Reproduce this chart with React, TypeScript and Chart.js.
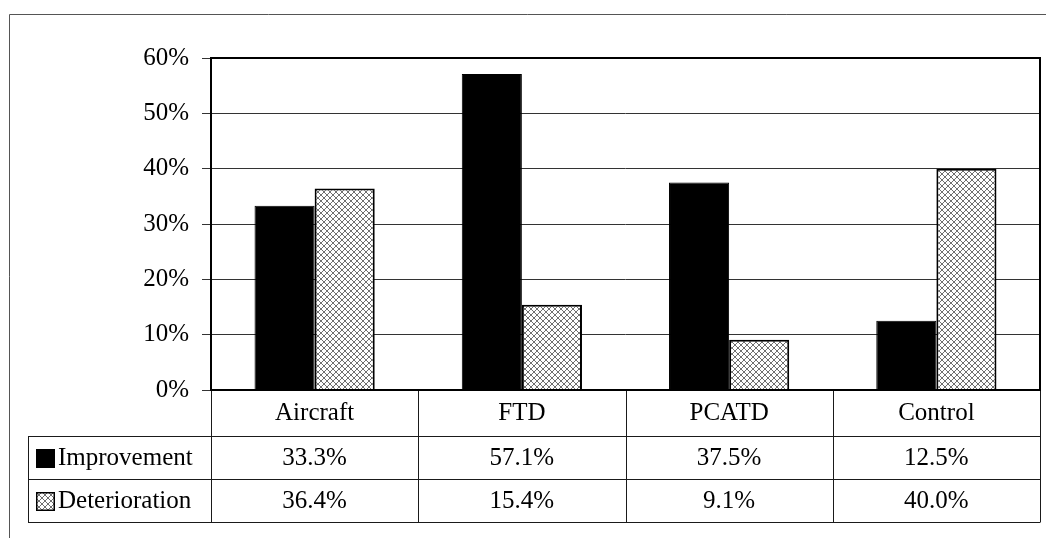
import React, { useEffect, useRef } from "react";
import { Chart, registerables } from "chart.js";

Chart.register(...registerables);

const categories = ["Aircraft", "FTD", "PCATD", "Control"];
const improvement = [33.3, 57.1, 37.5, 12.5];
const deterioration = [36.4, 15.4, 9.1, 40.0];
const seriesNames = ["Improvement", "Deterioration"];
const yMin = 0;
const yMax = 60;
const yStep = 10;

const FONT_FAMILY = "'Liberation Serif', 'Times New Roman', serif";
const FONT_SIZE = 25;

function makeHatch(): CanvasPattern | string {
  const c = document.createElement("canvas");
  c.width = 6;
  c.height = 6;
  const g = c.getContext("2d");
  if (!g) return "#bbb";
  g.fillStyle = "#fff";
  g.fillRect(0, 0, 6, 6);
  g.fillStyle = "#707070";
  for (let i = 0; i < 6; i++) {
    g.fillRect(i, i, 1, 1);
    g.fillRect(i, 5 - i, 1, 1);
  }
  const p = g.createPattern(c, "repeat");
  return p || "#bbb";
}

export default function App() {
  const ref = useRef<HTMLCanvasElement>(null);

  useEffect(() => {
    document.body.style.margin = "0";
    const canvas = ref.current;
    if (!canvas) return;
    const hatch = makeHatch();
    const fills = ["#000000", hatch];
    const seriesData = [improvement, deterioration];

    const tablePlugin = {
      id: "dataTable",
      afterDraw(chart: any) {
        const { ctx, chartArea: ca } = chart;
        const xs = chart.scales.x;
        const n = categories.length;
        const colW = (xs.right - xs.left) / n;
        const r0 = ca.bottom;
        const r1 = r0 + 46;
        const r2 = r1 + 43;
        const r3 = r2 + 43;
        const rows = [r1, r2, r3];
        const legendLeft = 28;
        const al = (v: number) => Math.round(v) + 0.5;

        ctx.save();
        // outer frame
        ctx.strokeStyle = "#555";
        ctx.lineWidth = 1;
        ctx.beginPath();
        ctx.moveTo(al(9), chart.height);
        ctx.lineTo(al(9), al(14));
        ctx.lineTo(chart.width, al(14));
        ctx.stroke();

        // table lines
        ctx.strokeStyle = "#1a1a1a";
        ctx.beginPath();
        for (const y of rows) {
          ctx.moveTo(legendLeft, al(y));
          ctx.lineTo(ca.right, al(y));
        }
        ctx.moveTo(al(legendLeft), r1);
        ctx.lineTo(al(legendLeft), r3);
        for (let i = 0; i <= n; i++) {
          const x = al(ca.left + i * colW);
          ctx.moveTo(x, r0);
          ctx.lineTo(x, r3 + 0.5);
        }
        ctx.stroke();

        // values & legend
        ctx.font = `${FONT_SIZE}px ${FONT_FAMILY}`;
        ctx.fillStyle = "#000";
        ctx.textBaseline = "middle";
        for (let s = 0; s < seriesData.length; s++) {
          const top = rows[s];
          const bottom = rows[s + 1];
          const cy = (top + bottom) / 2 + 1;
          ctx.textAlign = "center";
          for (let i = 0; i < n; i++) {
            const cx = xs.getPixelForValue(i);
            ctx.fillText(seriesData[s][i].toFixed(1) + "%", cx, cy);
          }
          // legend key
          const ks = 19;
          const kx = 36;
          const ky = Math.round(cy - ks / 2);
          ctx.fillStyle = fills[s] as any;
          ctx.fillRect(kx, ky, ks, ks);
          ctx.strokeStyle = "#000";
          ctx.lineWidth = 1.5;
          ctx.strokeRect(kx + 0.75, ky + 0.75, ks - 1.5, ks - 1.5);
          ctx.fillStyle = "#000";
          ctx.textAlign = "left";
          ctx.fillText(seriesNames[s], 58, cy);
        }

        // plot border
        ctx.strokeStyle = "#000";
        ctx.lineWidth = 2;
        ctx.strokeRect(ca.left, ca.top, ca.right - ca.left, ca.bottom - ca.top);
        ctx.restore();
      },
    };

    const font = { family: FONT_FAMILY, size: FONT_SIZE };

    const chart = new Chart(canvas, {
      type: "bar",
      data: {
        labels: categories,
        datasets: [
          {
            label: seriesNames[0],
            data: improvement,
            backgroundColor: "#000000",
            borderColor: "#000000",
            borderWidth: 1,
          },
          {
            label: seriesNames[1],
            data: deterioration,
            backgroundColor: hatch as any,
            borderColor: "#000000",
            borderWidth: 2,
          },
        ],
      },
      options: {
        animation: false,
        responsive: false,
        devicePixelRatio: 1,
        layout: { padding: { left: 0, right: 6, top: 58, bottom: 0 } },
        datasets: { bar: { categoryPercentage: 0.58, barPercentage: 1 } },
        plugins: {
          legend: { display: false },
          tooltip: { enabled: false },
        },
        scales: {
          x: {
            grid: { display: false, drawTicks: false },
            border: { display: false },
            ticks: { padding: 8, font, color: "#000", maxRotation: 0, autoSkip: false },
            afterFit: (s: any) => {
              s.height = 148;
            },
          },
          y: {
            min: yMin,
            max: yMax,
            ticks: {
              stepSize: yStep,
              padding: 13,
              font,
              color: "#000",
              callback: (v: any) => v + "%",
            },
            grid: { color: "#333", lineWidth: 1, tickLength: 9, drawTicks: true },
            border: { display: false },
            afterFit: (s: any) => {
              s.width = 211;
            },
          },
        },
      },
      plugins: [tablePlugin],
    });

    return () => chart.destroy();
  }, []);

  return (
    <div style={{ width: 1046, height: 538, position: "relative" }}>
      <canvas ref={ref} width={1046} height={538} style={{ display: "block" }} />
    </div>
  );
}
